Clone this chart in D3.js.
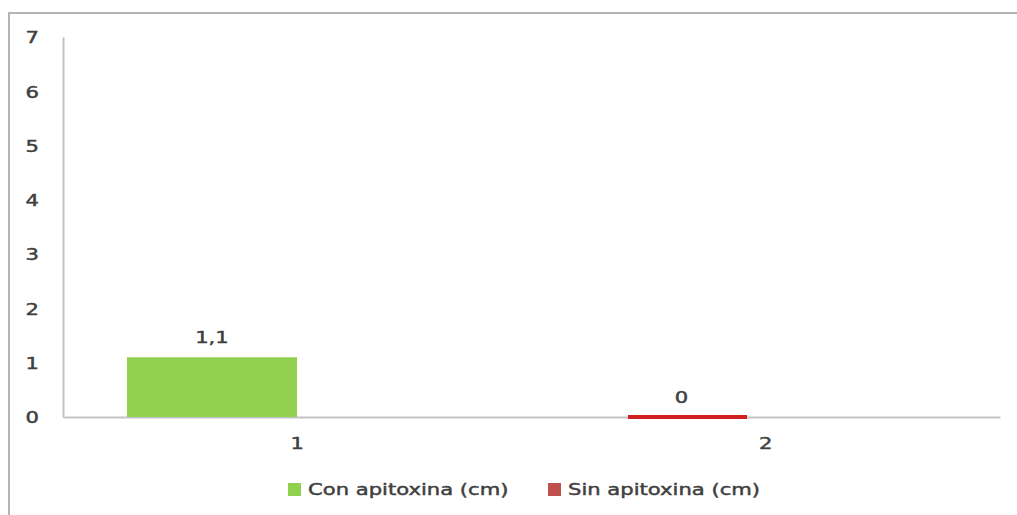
<!DOCTYPE html>
<html>
<head>
<meta charset="utf-8">
<script src="https://cdn.jsdelivr.net/npm/d3@7"></script>
<style>
  html, body { margin: 0; padding: 0; background: #fff; }
  svg { display: block; }
  text { font-family: "DejaVu Sans", Verdana, sans-serif; fill: #404040; stroke: #404040; stroke-width: 0.45px; }
</style>
</head>
<body>
<svg id="chart" width="1017" height="515"></svg>
<script>
// Categories on the x axis
const categories = ["1", "2"];
// Series names (legend order)
const seriesNames = ["Con apitoxina (cm)", "Sin apitoxina (cm)"];
// Value of each series per category (null = no bar)
const conApitoxina = [1.1, null];
const sinApitoxina = [null, 0];
// Y axis tick values
const yTicks = [0, 1, 2, 3, 4, 5, 6, 7];

const seriesValues = [conApitoxina, sinApitoxina];
const seriesFill = ["#92d050", "#c0504d"];
const zeroBarColor = "#d11f1f";
// bar centre and width as fractions of a category band
const barCentre = [0.318, 0.333];
const barWidth = [0.363, 0.254];
const textStretch = 1.32;

const svg = d3.select("#chart");
const plot = { left: 63, right: 1000, top: 37, bottom: 417 };

// outer frame (runs past the right and bottom edges)
svg.append("rect")
  .attr("x", 9).attr("y", 13)
  .attr("width", 1200).attr("height", 700)
  .attr("fill", "none").attr("stroke", "#b4b4b4").attr("stroke-width", 2);

const x = d3.scaleBand().domain(categories).range([plot.left, plot.right]).padding(0);
const y = d3.scaleLinear().domain([0, 7]).range([plot.bottom, plot.top]);

function stretched(sel) {
  sel.each(function () {
    const t = d3.select(this);
    const tx = +t.attr("data-x"), ty = +t.attr("data-y");
    t.attr("transform", `translate(${tx},${ty}) scale(${textStretch},1)`);
  });
}

// y axis
const yAxis = d3.axisLeft(y).tickValues(yTicks).tickSize(0).tickPadding(0).tickFormat(d3.format("d"));
const gy = svg.append("g").attr("transform", `translate(${plot.left},0)`).call(yAxis);
gy.select(".domain").attr("stroke", "#c4c4c4").attr("stroke-width", 2);
gy.selectAll(".tick text").remove();
gy.selectAll(".tick").append("text")
  .attr("data-x", 39 - plot.left).attr("data-y", 0)
  .attr("text-anchor", "end").attr("dy", "0.36em")
  .style("font-size", "16px")
  .text(d => d3.format("d")(d))
  .call(stretched);

// x axis
const xAxis = d3.axisBottom(x).tickSize(0).tickPadding(0);
const gx = svg.append("g").attr("transform", `translate(0,${plot.bottom})`).call(xAxis);
gx.select(".domain").attr("stroke", "#c4c4c4").attr("stroke-width", 2);
gx.selectAll(".tick text").remove();
gx.selectAll(".tick").append("text")
  .attr("data-x", 0).attr("data-y", 26)
  .attr("text-anchor", "middle").attr("dy", "0.36em")
  .style("font-size", "16px")
  .text(d => d)
  .call(stretched);

// bars
const bars = [];
seriesValues.forEach((vals, si) => {
  vals.forEach((v, ci) => {
    if (v === null) return;
    bars.push({ s: si, cat: categories[ci], v });
  });
});

const fmt = v => d3.format(".1~f")(v).replace(".", ",");

bars.forEach(b => {
  const bw = x.bandwidth();
  const cx = x(b.cat) + bw * barCentre[b.s];
  const w = bw * barWidth[b.s];
  if (b.v > 0) {
    svg.append("rect")
      .attr("x", cx - w / 2).attr("y", y(b.v))
      .attr("width", w).attr("height", y(0) - y(b.v))
      .attr("fill", seriesFill[b.s]);
  } else {
    svg.append("line")
      .attr("x1", cx - w / 2).attr("x2", cx + w / 2)
      .attr("y1", y(0)).attr("y2", y(0))
      .attr("stroke", zeroBarColor).attr("stroke-width", 4);
  }
  svg.append("text")
    .attr("data-x", cx - (b.v > 0 ? 0 : 6)).attr("data-y", y(b.v) - 20)
    .attr("text-anchor", "middle").attr("dy", "0.36em")
    .style("font-size", "16px")
    .text(fmt(b.v))
    .call(stretched);
});

// legend
const legendX = [288, 548];
seriesNames.forEach((name, i) => {
  svg.append("rect")
    .attr("x", legendX[i]).attr("y", 483)
    .attr("width", 13).attr("height", 13)
    .attr("fill", seriesFill[i]);
  svg.append("text")
    .attr("data-x", legendX[i] + 20).attr("data-y", 489.5)
    .attr("dy", "0.36em")
    .style("font-size", "16px")
    .text(name)
    .call(stretched);
});
</script>
</body>
</html>
